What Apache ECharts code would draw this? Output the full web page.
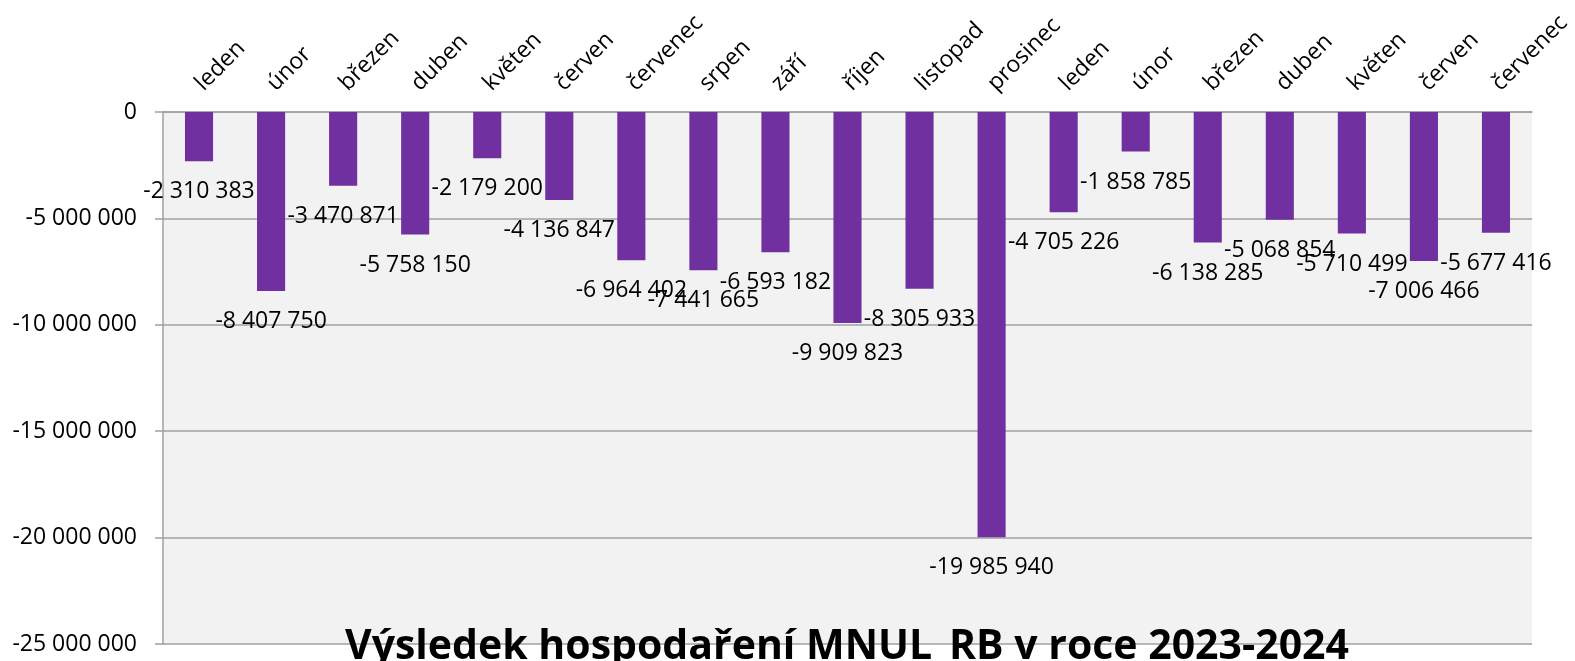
<!DOCTYPE html>
<html>
<head>
<meta charset="utf-8">
<script src="https://cdn.jsdelivr.net/npm/echarts@6/dist/echarts.min.js"></script>
<style>
  html, body { margin: 0; padding: 0; background: #fff; }
  #chart { width: 1575px; height: 661px; }
</style>
</head>
<body>
<div id="chart"></div>
<script>
const months = ['leden', 'únor', 'březen', 'duben', 'květen', 'červen', 'červenec', 'srpen', 'září', 'říjen', 'listopad', 'prosinec',
  'leden', 'únor', 'březen', 'duben', 'květen', 'červen', 'červenec']
const result = [-2310383, -8407750, -3470871, -5758150, -2179200, -4136847, -6964402, -7441665, -6593182, -9909823, -8305933, -19985940,
  -4705226, -1858785, -6138285, -5068854, -5710499, -7006466, -5677416]
const titleText = 'Výsledek hospodaření MNUL_RB v roce 2023-2024'

// mezery jako oddelovac tisicu
function fmt (v) {
  const s = String(Math.abs(v)).replace(/\B(?=(\d{3})+(?!\d))/g, ' ')
  return (v < 0 ? '-' : '') + s
}

const font = 'Open Sans'
const myChart = echarts.init(document.getElementById('chart'))
myChart.setOption({
  animation: false,
  title: {
    text: titleText,
    left: 340,
    top: 622,
    textStyle: {
      fontFamily: font,
      fontSize: 41,
      fontWeight: 'bold',
      color: '#000'
    }
  },
  grid: {
    left: 163,
    right: 43,
    top: 112,
    bottom: 17,
    show: true,
    backgroundColor: '#f2f2f2',
    borderWidth: 0
  },
  xAxis: {
    type: 'category',
    position: 'top',
    data: months,
    axisLine: { lineStyle: { color: '#a0a0a0', width: 1.5 } },
    axisTick: { inside: true, length: 8, lineStyle: { color: '#a0a0a0', width: 1.5 } },
    axisLabel: {
      interval: 0,
      rotate: 45,
      margin: 25,
      fontFamily: font,
      fontSize: 23,
      color: '#000'
    }
  },
  yAxis: {
    type: 'value',
    min: -25000000,
    max: 0,
    interval: 5000000,
    axisLine: { show: true, lineStyle: { color: '#a0a0a0', width: 1.5 } },
    axisTick: { show: true, length: 8, lineStyle: { color: '#a0a0a0', width: 1.5 } },
    splitLine: { lineStyle: { color: '#a0a0a0', width: 1.5 } },
    axisLabel: {
      margin: 26,
      fontFamily: font,
      fontSize: 23,
      color: '#000',
      formatter: fmt
    }
  },
  series: [
    {
      type: 'bar',
      data: result,
      barCategoryGap: '61%',
      itemStyle: { color: '#7030a0' },
      labelLayout: { moveOverlap: 'shiftY' },
      label: {
        show: true,
        position: 'bottom',
        distance: 19,
        fontFamily: font,
        fontSize: 23,
        color: '#000',
        formatter: p => fmt(p.value)
      }
    }
  ]
})
</script>
</body>
</html>
